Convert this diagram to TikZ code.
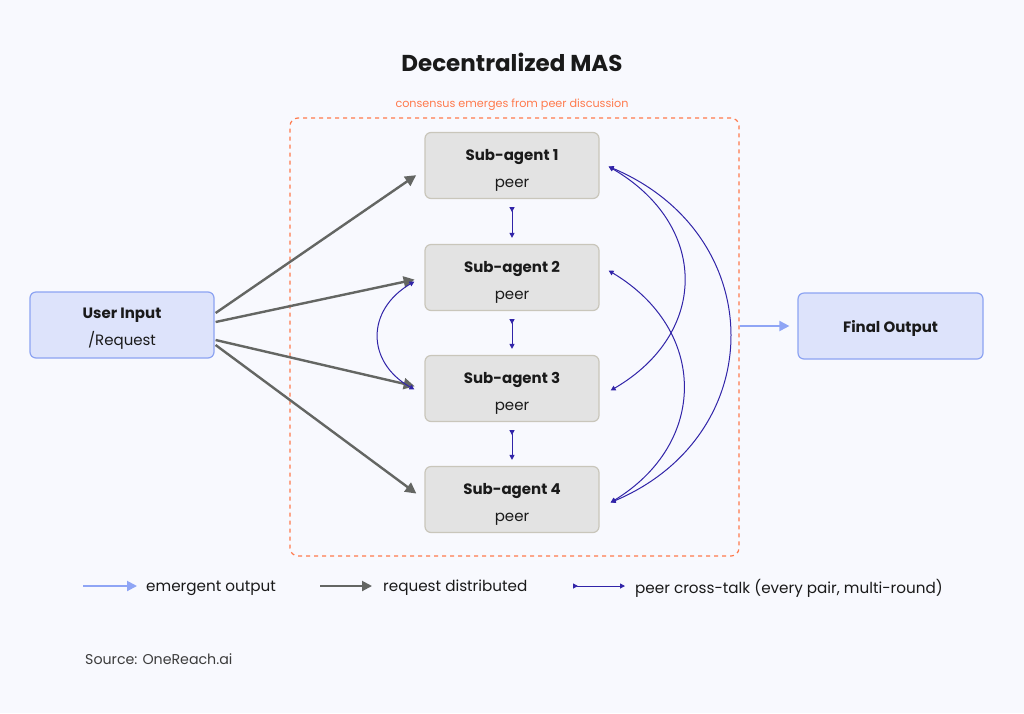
\documentclass[tikz,border=0pt]{standalone}
\usepackage{fontspec}
\setmainfont{Poppins}
\usetikzlibrary{arrows.meta,calc}
\definecolor{bgc}{HTML}{F8F9FE}
\definecolor{orangec}{HTML}{FF7A4D}
\definecolor{grayfill}{HTML}{E3E3E3}
\definecolor{grayedge}{HTML}{C9C6BB}
\definecolor{bluefill}{HTML}{DDE3FB}
\definecolor{blueedge}{HTML}{8CA3F2}
\definecolor{grayarrow}{HTML}{646663}
\definecolor{navy}{HTML}{3124A8}
\definecolor{lightblue}{HTML}{8FA5F5}
\definecolor{txt}{HTML}{1A1A1A}
\tikzset{
  agentbox/.style={draw=grayedge, fill=grayfill, line width=1.2pt, rounded corners=6pt,
    minimum width=174pt, minimum height=66pt},
  iobox/.style={draw=blueedge, fill=bluefill, line width=1.2pt, rounded corners=6pt,
    minimum width=185pt, minimum height=66pt},
  boxtext/.style={align=center, text=txt, inner sep=0pt, font=\fontsize{15}{27}\selectfont},
  reqarrow/.style={draw=grayarrow, line width=2.4pt, -{Triangle[length=11pt,width=11pt]}},
  outarrow/.style={draw=lightblue, line width=2pt, -{Triangle[length=10pt,width=10pt]}},
  peerarrow/.style={draw=navy, line width=1pt, {Triangle[length=5pt,width=5pt]}-{Triangle[length=5pt,width=5pt]}},
  peerdown/.style={draw=navy, line width=1pt, {Triangle[reversed,length=5pt,width=5pt]}-{Triangle[length=5pt,width=5pt]}},
  legendtext/.style={anchor=west, inner sep=0pt, text=txt, font=\fontsize{15.2}{18}\selectfont},
}
\begin{document}
\begin{tikzpicture}[x=1pt,y=-1pt]
\fill[bgc] (0,0) rectangle (1024,713);
\useasboundingbox (0,0) rectangle (1024,713);

\node[text=txt, font=\fontsize{23}{27}\selectfont\bfseries] (title) at (512,62) {Decentralized MAS};

\node[draw=orangec, line width=1.2pt, dash pattern=on 4pt off 4pt, rounded corners=8pt,
  minimum width=449pt, minimum height=438pt] (frame) at (514.5,337) {};
\node[text=orangec, font=\fontsize{11.2}{13}\selectfont] (framelabel) at (512,105) {consensus emerges from peer discussion};

\node[agentbox] (s1) at (512,165.5) {};
\node[agentbox] (s2) at (512,277.5) {};
\node[agentbox] (s3) at (512,388.5) {};
\node[agentbox] (s4) at (512,499.5) {};
\node[boxtext] (s1t) at ($(s1.center)+(0,4.5)$) {\textbf{Sub-agent 1}\\peer};
\node[boxtext] (s2t) at ($(s2.center)+(0,4.5)$) {\textbf{Sub-agent 2}\\peer};
\node[boxtext] (s3t) at ($(s3.center)+(0,4.5)$) {\textbf{Sub-agent 3}\\peer};
\node[boxtext] (s4t) at ($(s4.center)+(0,4.5)$) {\textbf{Sub-agent 4}\\peer};

\node[iobox, minimum width=184pt] (user) at (122,325) {};
\node[boxtext] (usert) at ($(user.center)+(0,4)$) {\textbf{User Input}\\/Request};
\node[iobox] (final) at (890.5,326) {};
\node[boxtext] (finalt) at ($(final.center)+(0,2)$) {\textbf{Final Output}};

% request distribution
\draw[reqarrow, shorten >=10pt] ($(user.east)+(1,-12)$) -- ($(s1.west)+(0,4)$);
\draw[reqarrow, shorten >=10pt] ($(user.east)+(1,-3)$) -- (s2.west);
\draw[reqarrow, shorten >=10pt] ($(user.east)+(1,15)$) -- (s3.west);
\draw[reqarrow, shorten >=10pt] ($(user.east)+(1,20)$) -- (s4.west);

% output
\draw[outarrow, shorten >=8pt] (frame.east |- final.west) -- (final.west);

% vertical peer links
\draw[peerdown, shorten <=8pt, shorten >=6pt] (s1.south) -- (s2.north);
\draw[peerdown, shorten <=8pt, shorten >=6pt] (s2.south) -- (s3.north);
\draw[peerdown, shorten <=8pt, shorten >=6pt] (s3.south) -- (s4.north);

% curved peer links
\coordinate (s1r) at ($(s1.east)+(9,1)$);
\coordinate (s2r) at ($(s2.east)+(9,-7)$);
\coordinate (s3r) at ($(s3.east)+(11,2)$);
\coordinate (s4r) at ($(s4.east)+(11,3)$);
\coordinate (s2l) at ($(s2.west)+(-10,4)$);
\coordinate (s3l) at ($(s3.west)+(-10,1)$);
\draw[peerarrow] (s1r) .. controls (709,225) and (709,333) .. (s3r);
\draw[peerarrow] (s1r) .. controls (770,235) and (770,435) .. (s4r);
\draw[peerarrow] (s2r) .. controls (708,330) and (708,443) .. (s4r);
\draw[peerarrow] (s2l) .. controls (366,310) and (366,362) .. (s3l);

% legend
\coordinate (la1) at (83,586); \coordinate (la2) at (137,586);
\draw[outarrow] (la1) -- (la2);
\node[legendtext] (lt1) at (146,588) {emergent output};
\coordinate (lb1) at (320,586); \coordinate (lb2) at (372,586);
\draw[reqarrow, line width=2pt, -{Triangle[length=10pt,width=10pt]}] (lb1) -- (lb2);
\node[legendtext] (lt2) at (383,588) {request distributed};
\coordinate (lc1) at (573,586); \coordinate (lc2) at (625,586);
\draw[peerdown] (lc1) -- (lc2);
\node[legendtext] (lt3) at (635,588) {peer cross-talk (every pair, multi-round)};

\node[anchor=west, inner sep=0pt, text=txt!85, font=\fontsize{14.2}{17}\selectfont] (source) at (85,659) {Source: OneReach.ai};
\end{tikzpicture}
\end{document}
